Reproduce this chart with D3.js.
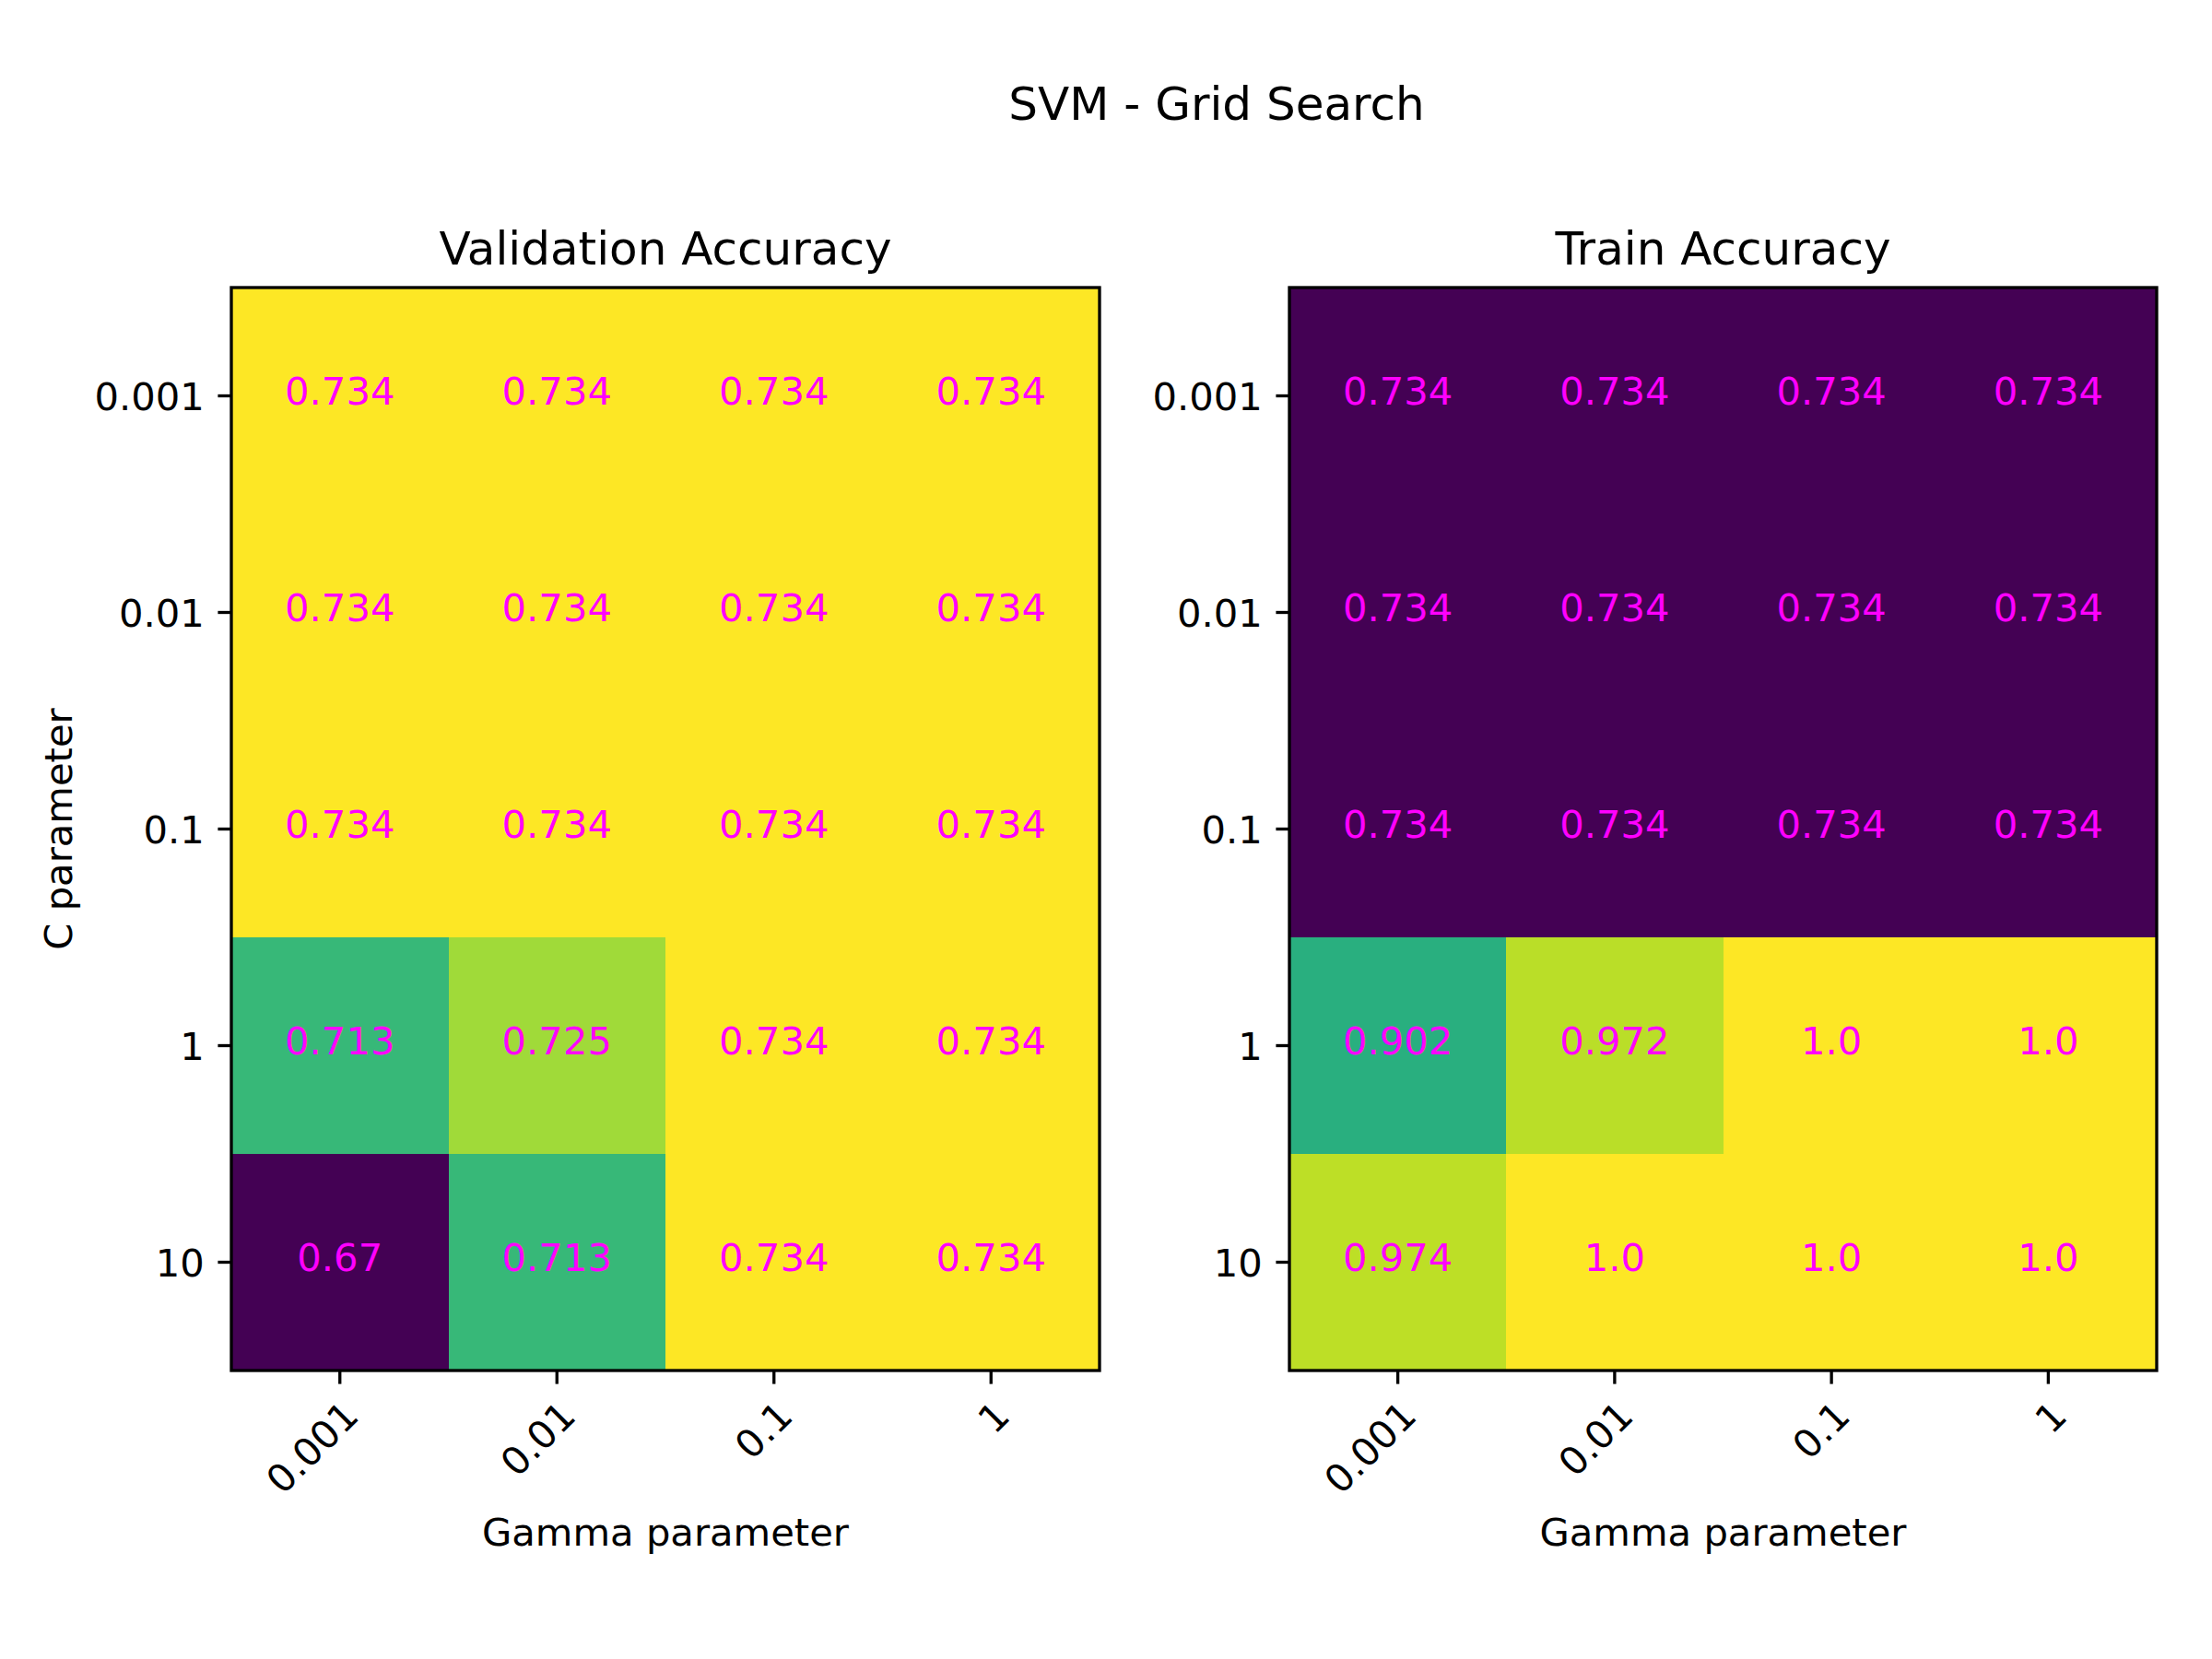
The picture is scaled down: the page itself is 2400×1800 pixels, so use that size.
<!DOCTYPE html>
<html>
<head>
<meta charset="utf-8">
<script src="https://cdn.jsdelivr.net/npm/d3@7"></script>
<style>
  html, body { margin: 0; padding: 0; background: #ffffff; }
  svg { display: block; }
  text { font-family: "DejaVu Sans", sans-serif; }
</style>
</head>
<body>
<svg id="chart" width="2400" height="1800"></svg>
<script>
// ---- data ----
const gammaLabels = ["0.001", "0.01", "0.1", "1"];
const cLabels = ["0.001", "0.01", "0.1", "1", "10"];
const validationAccuracy = [
  [0.734, 0.734, 0.734, 0.734],
  [0.734, 0.734, 0.734, 0.734],
  [0.734, 0.734, 0.734, 0.734],
  [0.713, 0.725, 0.734, 0.734],
  [0.67, 0.713, 0.734, 0.734]
];
const trainAccuracy = [
  [0.734, 0.734, 0.734, 0.734],
  [0.734, 0.734, 0.734, 0.734],
  [0.734, 0.734, 0.734, 0.734],
  [0.902, 0.972, 1.0, 1.0],
  [0.974, 1.0, 1.0, 1.0]
];
const panelTitles = ["Validation Accuracy", "Train Accuracy"];
const suptitle = "SVM - Grid Search";
const xLabel = "Gamma parameter";
const yLabel = "C parameter";

// ---- layout ----
const svg = d3.select("#chart");
const FONT = 41.7;
const LW = 3.33;
const TICK = 14.6;
const PAD = 14.6;
const axTop = 312, axBottom = 1487;
const panels = [
  { title: panelTitles[0], data: validationAccuracy, x0: 251, x1: 1193, showYLabel: true },
  { title: panelTitles[1], data: trainAccuracy, x0: 1399, x1: 2340, showYLabel: false }
];

function fmt(v) {
  return Number.isInteger(v) ? v.toFixed(1) : String(v);
}

svg.append("text")
  .attr("x", 1320).attr("y", 130)
  .attr("text-anchor", "middle")
  .attr("font-size", 50)
  .attr("fill", "#000")
  .text(suptitle);

panels.forEach(p => {
  const x = d3.scaleBand().domain(gammaLabels).range([p.x0, p.x1]).padding(0);
  const y = d3.scaleBand().domain(cLabels).range([axTop, axBottom]).padding(0);
  const flat = p.data.flat();
  const color = d3.scaleSequential(d3.interpolateViridis).domain(d3.extent(flat));

  const cells = [];
  p.data.forEach((row, i) => row.forEach((v, j) => cells.push({ c: cLabels[i], g: gammaLabels[j], v })));

  const g = svg.append("g");
  g.selectAll("rect.cell").data(cells).join("rect")
    .attr("class", "cell")
    .attr("x", d => x(d.g))
    .attr("y", d => y(d.c))
    .attr("width", x.bandwidth() + 1)
    .attr("height", y.bandwidth() + 1)
    .attr("shape-rendering", "crispEdges")
    .attr("fill", d => color(d.v));

  g.selectAll("text.val").data(cells).join("text")
    .attr("class", "val")
    .attr("x", d => x(d.g) + x.bandwidth() / 2)
    .attr("y", d => y(d.c) + y.bandwidth() / 2)
    .attr("dy", "0.23em")
    .attr("text-anchor", "middle")
    .attr("font-size", FONT)
    .attr("fill", "#ff00ff")
    .text(d => fmt(d.v));

  // spine
  g.append("rect")
    .attr("x", p.x0).attr("y", axTop)
    .attr("width", p.x1 - p.x0).attr("height", axBottom - axTop)
    .attr("fill", "none").attr("stroke", "#000").attr("stroke-width", LW);

  // y axis
  const ya = g.append("g").attr("transform", `translate(${p.x0},0)`)
    .call(d3.axisLeft(y).tickSize(TICK).tickPadding(PAD).tickSizeOuter(0));
  ya.select(".domain").remove();
  ya.selectAll("line").attr("stroke", "#000").attr("stroke-width", LW);
  ya.selectAll("text")
    .attr("font-size", FONT).attr("font-family", "DejaVu Sans, sans-serif")
    .attr("fill", "#000").attr("dy", "0.36em");

  // x axis
  const xa = g.append("g").attr("transform", `translate(0,${axBottom})`)
    .call(d3.axisBottom(x).tickSize(TICK).tickPadding(PAD).tickSizeOuter(0));
  xa.select(".domain").remove();
  xa.selectAll("line").attr("stroke", "#000").attr("stroke-width", LW);
  xa.selectAll("text")
    .attr("font-size", FONT).attr("font-family", "DejaVu Sans, sans-serif")
    .attr("fill", "#000")
    .attr("y", 0).attr("x", 0)
    .attr("dy", "0.76em")
    .attr("text-anchor", "end")
    .attr("transform", `translate(0,${TICK + PAD}) rotate(-45)`);

  // titles & labels
  const cx = (p.x0 + p.x1) / 2;
  svg.append("text")
    .attr("x", cx).attr("y", 287)
    .attr("text-anchor", "middle").attr("font-size", 50).attr("fill", "#000")
    .text(p.title);
  svg.append("text")
    .attr("x", cx).attr("y", 1677)
    .attr("text-anchor", "middle").attr("font-size", FONT).attr("fill", "#000")
    .text(xLabel);
  if (p.showYLabel) {
    svg.append("text")
      .attr("transform", `translate(78,${(axTop + axBottom) / 2}) rotate(-90)`)
      .attr("text-anchor", "middle").attr("font-size", FONT).attr("fill", "#000")
      .text(yLabel);
  }
});
</script>
</body>
</html>
